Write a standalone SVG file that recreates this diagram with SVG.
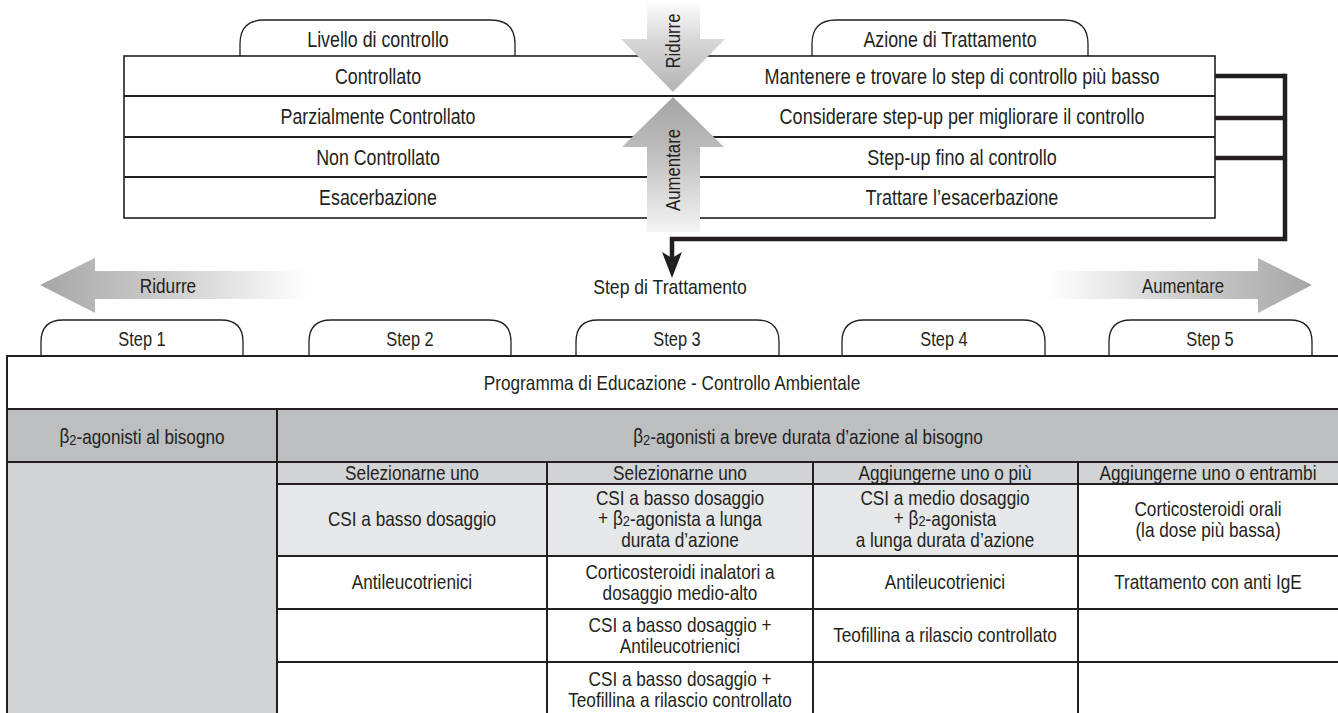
<svg xmlns="http://www.w3.org/2000/svg" width="1338" height="713" viewBox="0 0 1338 713">
<style>
text{font-family:"Liberation Sans",Arial,sans-serif;fill:#231f20;text-anchor:middle;dominant-baseline:central}
.t{font-size:22px}
.b{font-size:20px}
.tab{fill:#fff;stroke:#231f20;stroke-width:1.3}
.ln{stroke:#231f20;stroke-width:2;fill:none}
.conn{stroke:#231f20;stroke-width:4.5;fill:none}
.sub{font-size:15px}
</style>
<defs>
<linearGradient id="gDown" x1="0" y1="0" x2="0" y2="92" gradientUnits="userSpaceOnUse">
<stop offset="0" stop-color="#ffffff"/><stop offset="0.45" stop-color="#d6d6d6"/><stop offset="1" stop-color="#b4b4b4"/>
</linearGradient>
<linearGradient id="gUp" x1="0" y1="97" x2="0" y2="232" gradientUnits="userSpaceOnUse">
<stop offset="0" stop-color="#a4a4a4"/><stop offset="0.4" stop-color="#bdbdbd"/><stop offset="1" stop-color="#f4f4f4"/>
</linearGradient>
<linearGradient id="gLeft" x1="40" y1="0" x2="308" y2="0" gradientUnits="userSpaceOnUse">
<stop offset="0" stop-color="#a6a6a6"/><stop offset="0.5" stop-color="#cfcfcf"/><stop offset="1" stop-color="#ffffff"/>
</linearGradient>
<linearGradient id="gRight" x1="1048" y1="0" x2="1312" y2="0" gradientUnits="userSpaceOnUse">
<stop offset="0" stop-color="#ffffff"/><stop offset="0.5" stop-color="#cfcfcf"/><stop offset="1" stop-color="#a6a6a6"/>
</linearGradient>
</defs>
<rect width="1338" height="713" fill="#fff"/>

<!-- Top table -->
<g id="top-tab-livello">
<path class="tab" d="M240,57 L240,44 Q240,20 264,20 L491,20 Q515,20 515,44 L515,57"/>
<text class="t" transform="translate(378,39) scale(0.81,1)">Livello di controllo</text>
</g>
<g id="top-tab-azione">
<path class="tab" d="M812,57 L812,44 Q812,20 836,20 L1064,20 Q1088,20 1088,44 L1088,57"/>
<text class="t" transform="translate(950,39) scale(0.81,1)">Azione di Trattamento</text>
</g>
<g id="top-table">
<rect x="124" y="56" width="1091" height="162" fill="#fff" stroke="#231f20" stroke-width="1.6"/>
<line class="ln" x1="124" y1="96" x2="1215" y2="96"/>
<line class="ln" x1="124" y1="137" x2="1215" y2="137"/>
<line class="ln" x1="124" y1="177" x2="1215" y2="177"/>
</g>
<g id="row-controllato">
<text class="t" transform="translate(378,76) scale(0.81,1)">Controllato</text>
<text class="t" transform="translate(962,76) scale(0.82,1)">Mantenere e trovare lo step di controllo più basso</text>
</g>
<g id="row-parziale">
<text class="t" transform="translate(378,116) scale(0.81,1)">Parzialmente Controllato</text>
<text class="t" transform="translate(962,116) scale(0.82,1)">Considerare step-up per migliorare il controllo</text>
</g>
<g id="row-non">
<text class="t" transform="translate(378,157) scale(0.81,1)">Non Controllato</text>
<text class="t" transform="translate(962,157) scale(0.82,1)">Step-up fino al controllo</text>
</g>
<g id="row-esac">
<text class="t" transform="translate(378,197) scale(0.81,1)">Esacerbazione</text>
<text class="t" transform="translate(962,197) scale(0.82,1)">Trattare l’esacerbazione</text>
</g>

<!-- Vertical arrows -->
<g id="arrow-ridurre-v">
<path d="M647,0 L700,0 L700,39 L725,39 L673,92 L621,39 L647,39 Z" fill="url(#gDown)"/>
<text class="b" transform="translate(673,41) rotate(-90) scale(0.84,1)">Ridurre</text>
</g>
<g id="arrow-aumentare-v">
<path d="M673,97 L724,147 L700,147 L700,232 L647,232 L647,147 L622,147 Z" fill="url(#gUp)"/>
<text class="b" transform="translate(673,170) rotate(-90) scale(0.84,1)">Aumentare</text>
</g>

<!-- Connectors -->
<g id="connectors">
<path class="conn" d="M1215,76 L1285,76"/>
<path class="conn" d="M1215,118 L1285,118"/>
<path class="conn" d="M1215,158 L1285,158"/>
<path class="conn" d="M1285,73.8 L1285,239 L672,239 L672,262"/>
<path d="M662,252 L672,258 L682,252 L672,278 Z" fill="#231f20"/>
</g>

<text class="b" transform="translate(670,287) scale(0.88,1)">Step di Trattamento</text>

<!-- Horizontal arrows -->
<g id="arrow-ridurre-h">
<path d="M40,285 L95,258 L95,271 L308,271 L308,299 L95,299 L95,313 Z" fill="url(#gLeft)"/>
<text class="b" transform="translate(168,286) scale(0.86,1)">Ridurre</text>
</g>
<g id="arrow-aumentare-h">
<path d="M1312,285 L1258,258 L1258,271 L1048,271 L1048,299 L1258,299 L1258,313 Z" fill="url(#gRight)"/>
<text class="b" transform="translate(1183,286) scale(0.84,1)">Aumentare</text>
</g>

<!-- Step tabs -->
<g id="step1"><path class="tab" d="M41,356 L41,342 Q41,320 63,320 L221,320 Q243,320 243,342 L243,356"/><text class="b" transform="translate(142,339) scale(0.82,1)">Step 1</text></g>
<g id="step2"><path class="tab" d="M309,356 L309,342 Q309,320 331,320 L489,320 Q511,320 511,342 L511,356"/><text class="b" transform="translate(410,339) scale(0.82,1)">Step 2</text></g>
<g id="step3"><path class="tab" d="M576,356 L576,342 Q576,320 598,320 L757,320 Q779,320 779,342 L779,356"/><text class="b" transform="translate(677,339) scale(0.82,1)">Step 3</text></g>
<g id="step4"><path class="tab" d="M842,356 L842,342 Q842,320 864,320 L1023,320 Q1045,320 1045,342 L1045,356"/><text class="b" transform="translate(944,339) scale(0.82,1)">Step 4</text></g>
<g id="step5"><path class="tab" d="M1109,356 L1109,342 Q1109,320 1131,320 L1290,320 Q1312,320 1312,342 L1312,356"/><text class="b" transform="translate(1210,339) scale(0.82,1)">Step 5</text></g>

<!-- Bottom table -->
<g id="bottom-table">
<rect x="7" y="356" width="1340" height="370" fill="#fff"/>
<rect x="7" y="409" width="1340" height="53" fill="#bcbec0"/>
<rect x="7" y="462" width="270" height="260" fill="#d1d3d4"/>
<rect x="277" y="462" width="1070" height="22" fill="#d1d3d4"/>
<rect x="277" y="484" width="801" height="72" fill="#e6e7e8"/>
<rect x="7" y="356" width="1340" height="370" fill="none" stroke="#231f20" stroke-width="2"/>
<line class="ln" x1="7" y1="409" x2="1338" y2="409"/>
<line class="ln" x1="7" y1="462" x2="1338" y2="462"/>
<line class="ln" x1="277" y1="484" x2="1338" y2="484"/>
<line class="ln" x1="277" y1="556" x2="1338" y2="556"/>
<line class="ln" x1="277" y1="609" x2="1338" y2="609"/>
<line class="ln" x1="277" y1="662" x2="1338" y2="662"/>
<line class="ln" x1="277" y1="409" x2="277" y2="713"/>
<line class="ln" x1="547" y1="462" x2="547" y2="713"/>
<line class="ln" x1="813" y1="462" x2="813" y2="713"/>
<line class="ln" x1="1078" y1="462" x2="1078" y2="713"/>
</g>
<g id="cell-programma"><text class="b" transform="translate(672,383) scale(0.86,1)">Programma di Educazione - Controllo Ambientale</text></g>
<g id="cell-b2-bisogno"><text class="b" transform="translate(142,436) scale(0.86,1)">β<tspan class="sub" dy="4">2</tspan><tspan dy="-4">-agonisti al bisogno</tspan></text></g>
<g id="cell-b2-breve"><text class="b" transform="translate(808,436) scale(0.86,1)">β<tspan class="sub" dy="4">2</tspan><tspan dy="-4">-agonisti a breve durata d’azione al bisogno</tspan></text></g>
<g id="hdr1"><text class="b" transform="translate(412,473) scale(0.86,1)">Selezionarne uno</text></g>
<g id="hdr2"><text class="b" transform="translate(680,473) scale(0.86,1)">Selezionarne uno</text></g>
<g id="hdr3"><text class="b" transform="translate(945,473) scale(0.86,1)">Aggiungerne uno o più</text></g>
<g id="hdr4"><text class="b" transform="translate(1208,473) scale(0.86,1)">Aggiungerne uno o entrambi</text></g>
<g id="r4c1"><text class="b" transform="translate(412,519) scale(0.86,1)">CSI a basso dosaggio</text></g>
<g id="r4c2">
<text class="b" transform="translate(680,498) scale(0.86,1)">CSI a basso dosaggio</text>
<text class="b" transform="translate(680,518) scale(0.86,1)">+ β<tspan class="sub" dy="3">2</tspan><tspan dy="-3">-agonista a lunga</tspan></text>
<text class="b" transform="translate(680,540) scale(0.86,1)">durata d’azione</text>
</g>
<g id="r4c3">
<text class="b" transform="translate(945,498) scale(0.86,1)">CSI a medio dosaggio</text>
<text class="b" transform="translate(945,518) scale(0.86,1)">+ β<tspan class="sub" dy="3">2</tspan><tspan dy="-3">-agonista</tspan></text>
<text class="b" transform="translate(945,540) scale(0.86,1)">a lunga durata d’azione</text>
</g>
<g id="r4c4">
<text class="b" transform="translate(1208,509) scale(0.86,1)">Corticosteroidi orali</text>
<text class="b" transform="translate(1208,530) scale(0.86,1)">(la dose più bassa)</text>
</g>
<g id="r5c1"><text class="b" transform="translate(412,582) scale(0.86,1)">Antileucotrienici</text></g>
<g id="r5c2">
<text class="b" transform="translate(680,572) scale(0.86,1)">Corticosteroidi inalatori a</text>
<text class="b" transform="translate(680,593) scale(0.86,1)">dosaggio medio-alto</text>
</g>
<g id="r5c3"><text class="b" transform="translate(945,582) scale(0.86,1)">Antileucotrienici</text></g>
<g id="r5c4"><text class="b" transform="translate(1208,582) scale(0.86,1)">Trattamento con anti IgE</text></g>
<g id="r6c2">
<text class="b" transform="translate(680,625) scale(0.86,1)">CSI a basso dosaggio +</text>
<text class="b" transform="translate(680,646) scale(0.86,1)">Antileucotrienici</text>
</g>
<g id="r6c3"><text class="b" transform="translate(945,635) scale(0.86,1)">Teofillina a rilascio controllato</text></g>
<g id="r7c2">
<text class="b" transform="translate(680,679) scale(0.86,1)">CSI a basso dosaggio +</text>
<text class="b" transform="translate(680,700) scale(0.86,1)">Teofillina a rilascio controllato</text>
</g>
</svg>
